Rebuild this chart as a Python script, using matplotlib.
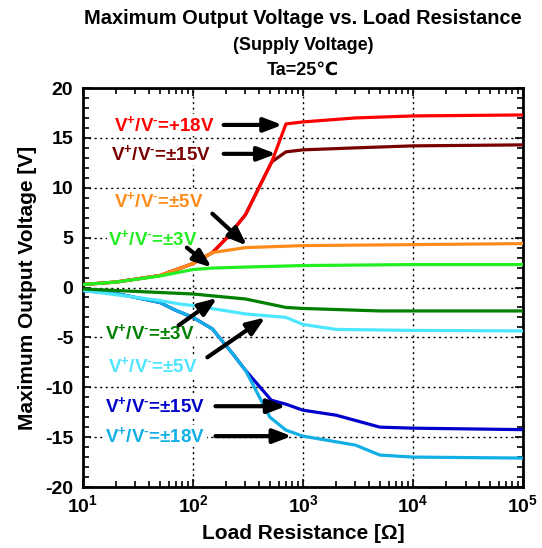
import matplotlib
matplotlib.use("Agg")
import matplotlib.pyplot as plt
import numpy as np

plt.rcParams['font.family'] = ['Liberation Sans', 'DejaVu Sans']
plt.rcParams['font.weight'] = 'bold'
plt.rcParams['mathtext.fontset'] = 'custom'
plt.rcParams['mathtext.rm'] = 'Liberation Sans:bold'
plt.rcParams['mathtext.bf'] = 'Liberation Sans:bold'
plt.rcParams['mathtext.it'] = 'Liberation Sans:bold'
plt.rcParams['mathtext.default'] = 'bf'

# load resistance [ohm] and max output voltage [V]
r_18p = [10, 20, 50, 100, 150, 200, 300, 520, 700, 1000, 3000, 10000, 100000]
v_18p = [0.3, 0.55, 1.2, 2.4, 3.5, 4.9, 7.3, 12.6, 16.4, 16.6, 17.0, 17.2, 17.3]

r_15p = [10, 20, 50, 100, 150, 200, 300, 520, 700, 1000, 3000, 10000, 100000]
v_15p = [0.3, 0.55, 1.2, 2.4, 3.5, 4.9, 7.3, 12.6, 13.6, 13.8, 14.0, 14.2, 14.3]

r_5p = [10, 20, 50, 100, 150, 300, 1000, 10000, 100000]
v_5p = [0.3, 0.55, 1.2, 2.4, 3.5, 4.0, 4.2, 4.3, 4.4]

r_3p = [10, 20, 50, 100, 150, 300, 1000, 10000, 100000]
v_3p = [0.3, 0.55, 1.15, 1.8, 1.95, 2.05, 2.2, 2.3, 2.3]

r_3n = [10, 50, 100, 300, 700, 1000, 5000, 100000]
v_3n = [-0.15, -0.5, -0.65, -1.15, -2.0, -2.1, -2.35, -2.35]

r_5n = [10, 50, 75, 100, 300, 700, 1000, 2000, 10000, 100000]
v_5n = [-0.3, -1.3, -1.65, -1.8, -2.65, -3.0, -3.7, -4.2, -4.3, -4.35]

r_15n = [10, 20, 50, 70, 100, 150, 230, 300, 515, 700, 1000, 2000, 5000, 10000, 100000]
v_15n = [-0.3, -0.6, -1.5, -2.3, -3.0, -4.15, -6.65, -8.3, -11.3, -11.7, -12.3, -12.8, -14.0, -14.1, -14.25]

r_18n = [10, 20, 50, 70, 100, 150, 230, 300, 500, 700, 1000, 3000, 5000, 10000, 100000]
v_18n = [-0.3, -0.6, -1.5, -2.3, -3.0, -4.15, -6.65, -8.3, -13.0, -14.3, -14.9, -15.8, -16.8, -17.0, -17.1]

# drawing order: later ones end up on top
series = [
    (r_15p, v_15p, '#7a0000'),
    (r_18p, v_18p, '#ff0000'),
    (r_5p, v_5p, '#ff8c1a'),
    (r_3p, v_3p, '#22ee22'),
    (r_15n, v_15n, '#0000cc'),
    (r_18n, v_18n, '#12aee6'),
    (r_5n, v_5n, '#4de6ff'),
    (r_3n, v_3n, '#008000'),
]

pm = r'V$^{+}$/V$^{\text{-}}$='

# label text, colour, text position, arrow tail, arrow tip (R, V)
labels = [
    (pm + '+18V', '#ff0000', (19, 16.3), (190, 16.3), (650, 16.3)),
    (pm + '±15V', '#7a0000', (18, 13.4), (190, 13.4), (570, 13.4)),
    (pm + '±5V', '#ff8c1a', (19, 8.7), (150, 7.4), (310, 4.2)),
    (pm + '±3V', '#22ee22', (17, 4.9), (88, 4.0), (148, 2.0)),
    (pm + '±3V', '#008000', (16, -4.6), (74, -3.8), (166, -1.05)),
    (pm + '±5V', '#4de6ff', (17, -7.9), (135, -7.0), (455, -3.0)),
    (pm + '±15V', '#0000cc', (16, -11.9), (160, -11.9), (700, -11.9)),
    (pm + '±18V', '#12aee6', (16, -14.9), (160, -14.9), (790, -14.9)),
]

fig = plt.figure(figsize=(5.42, 5.48), dpi=100)
ax = fig.add_axes([0.1531, 0.1113, 0.8119, 0.7281])

for r, v, c in series:
    ax.plot(r, v, color=c, lw=2.3, zorder=3)

for txt, c, tpos, tail, tip in labels:
    ax.text(tpos[0], tpos[1], txt, color=c, fontsize=13.5, fontweight='bold', ha='left', va='center',
            zorder=4, bbox=dict(facecolor='white', edgecolor='none', pad=1))
    ax.annotate('', xy=tip, xytext=tail, zorder=5,
                arrowprops=dict(arrowstyle='-|>,head_length=1.1,head_width=0.42', color='black',
                                lw=3, shrinkA=0, shrinkB=0))

ax.set_xscale('log')
ax.set_xlim(10, 1e5)
ax.set_ylim(-20, 20)
ax.set_xticks([10, 100, 1000, 10000, 100000])
ax.set_xticklabels([r'$10^{1}$', r'$10^{2}$', r'$10^{3}$', r'$10^{4}$', r'$10^{5}$'], fontsize=14)
ax.set_yticks(np.arange(-20, 21, 5))
ax.set_yticklabels([str(t) for t in range(-20, 21, 5)], fontsize=14, fontweight='bold')
ax.set_yticks(np.arange(-20, 21, 1), minor=True)
ax.tick_params(which='both', direction='in', top=True, right=True, width=1.2)
ax.tick_params(which='major', length=6)
ax.tick_params(axis='y', which='major', pad=7)
ax.tick_params(axis='x', which='major', pad=5)
ax.tick_params(which='minor', length=4)
ax.grid(True, which='major', color='black', linestyle=(0, (1.5, 2.5)), lw=1)
for s in ax.spines.values():
    s.set_linewidth(2)

ax.set_xlabel('Load Resistance [Ω]', fontsize=15, fontweight='bold', labelpad=6)
ax.set_ylabel('Maximum Output Voltage [V]', fontsize=15, fontweight='bold', labelpad=6)

fig.text(0.559, 0.967, 'Maximum Output Voltage vs. Load Resistance', ha='center', va='center',
         fontsize=14.4, fontweight='bold')
fig.text(0.559, 0.917, '(Supply Voltage)', ha='center', va='center', fontsize=13, fontweight='bold')
fig.text(0.559, 0.872, 'Ta=25℃', ha='center', va='center', fontsize=13, fontweight='bold')

fig.savefig('out.png', dpi=100)
